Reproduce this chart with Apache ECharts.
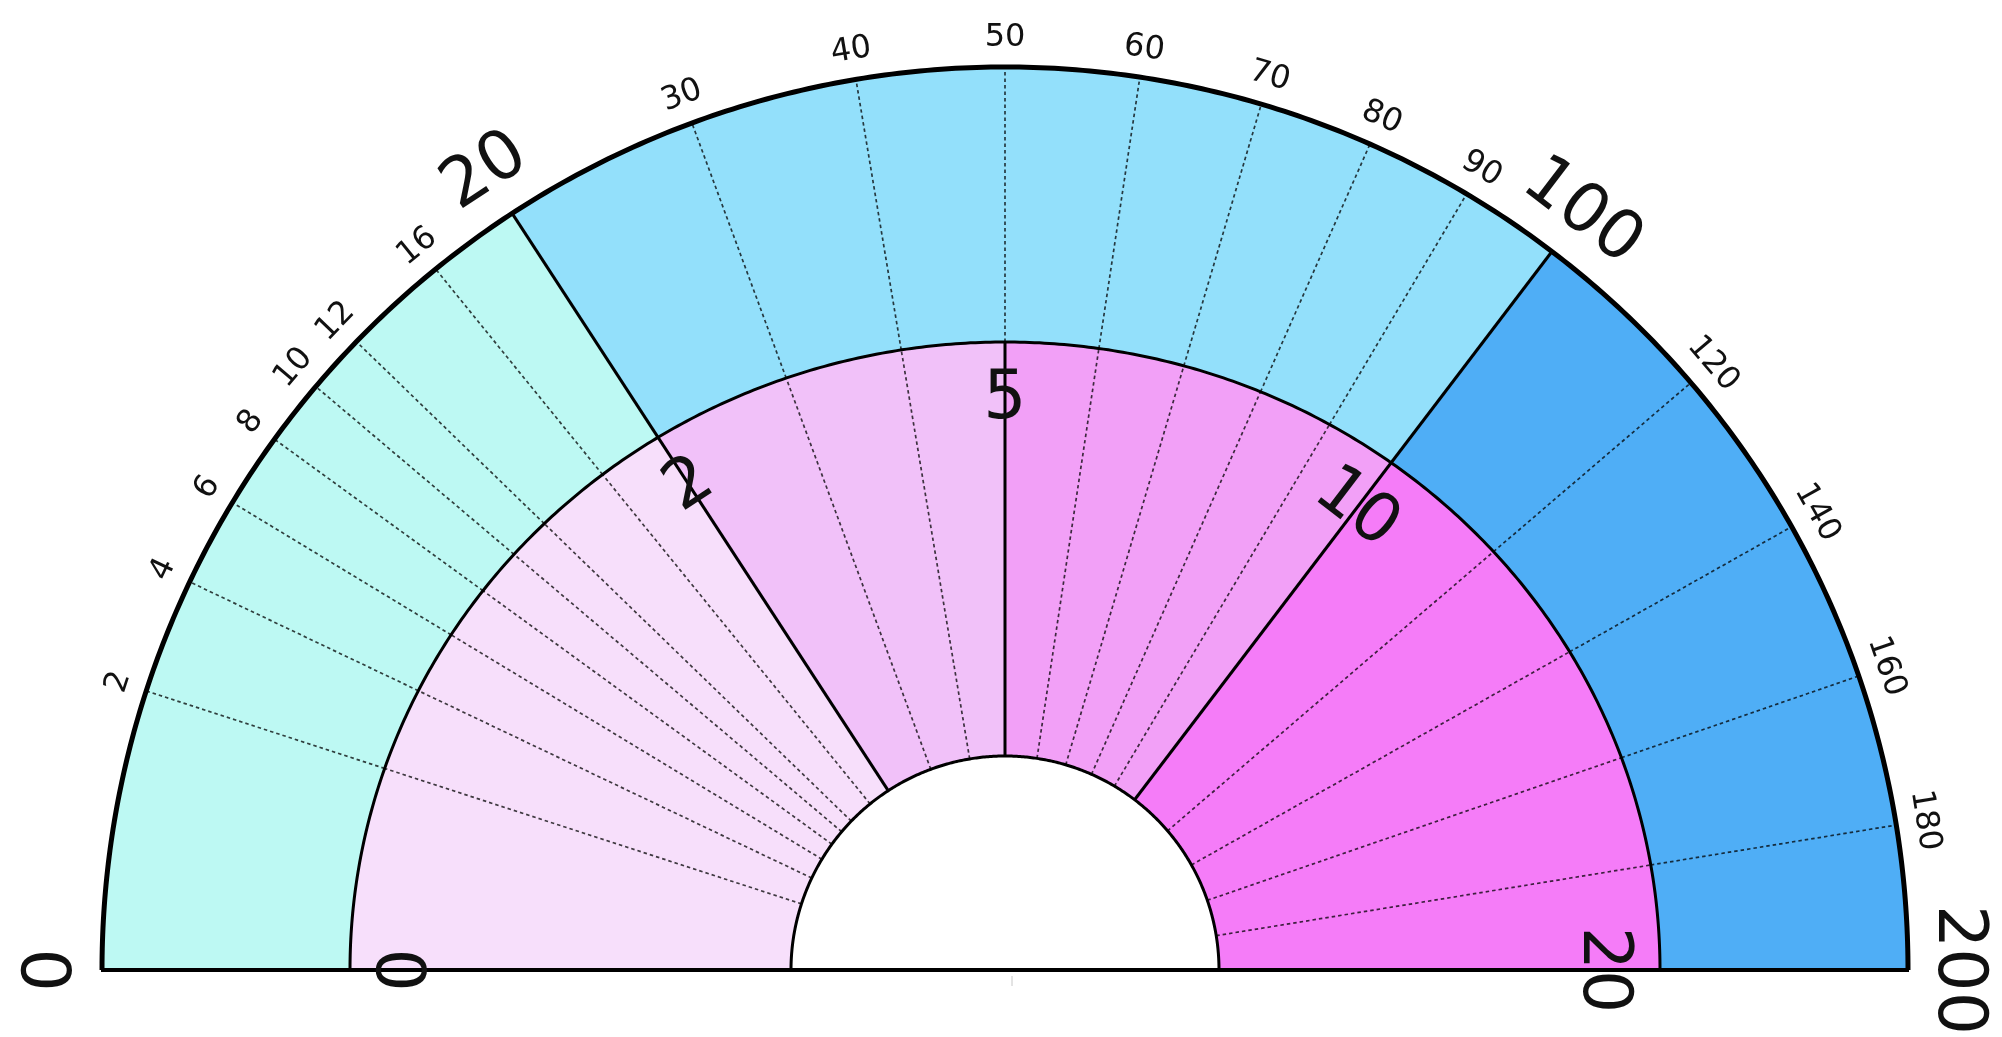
<!DOCTYPE html>
<html><head><meta charset="utf-8">
<script src="https://cdn.jsdelivr.net/npm/echarts@6/dist/echarts.min.js"></script>
<style>html,body{margin:0;padding:0;background:#fff}#c{width:2002px;height:1037px}</style>
</head><body><div id="c"></div>
<script>
// ---------------- data ----------------
const outerScaleMax = 200;
const innerScaleMax = 20;
const outerBandEdges = [0, 20, 100, 200];
const innerBandEdges = [0, 2, 5, 10, 20];
const outerMinorTicks = [2, 4, 6, 8, 10, 12, 16, 30, 40, 50, 60, 70, 80, 90, 120, 140, 160, 180];
const outerMinorLabels = ['2', '4', '6', '8', '10', '12', '16', '30', '40', '50', '60', '70', '80', '90', '120', '140', '160', '180'];
const outerMajorTicks = [0, 20, 100, 200];
const outerMajorLabels = ['0', '20', '100', '200'];
const innerTicks = [0, 2, 5, 10, 20];
const innerLabels = ['0', '2', '5', '10', '20'];

// ---------------- styles / layout ----------------
const outerBandColors = ['#bdf9f3', '#93e0fb', '#4faef6'];
const innerBandColors = ['#f7dffb', '#f1c1f9', '#f2a0f7', '#f57cf8'];
const CX = 1005, CY = 970;
const R_HOLE = 214, R_OUT = 903;
const MID_A = 655, MID_B = 628;          // boundary between the two rings (slightly oval)
const R_SMALL_LABEL = 932, R_BIG_LABEL = 952, INNER_LABEL_INSET = 58;
const FONT = 'DejaVu Sans';

// square-root scale: value -> position along the half circle (0..1)
const sq = (v, max) => Math.sqrt(v / max);
const rHole = () => R_HOLE;
const rOut = () => R_OUT;
const rMid = a => {
  const t = Math.PI * a;
  return MID_A * MID_B / Math.sqrt(Math.pow(MID_B * Math.cos(t), 2) + Math.pow(MID_A * Math.sin(t), 2));
};

const bands = [];
outerBandEdges.slice(0, -1).forEach((v, i) => bands.push({
  rin: rMid, rout: rOut, a0: sq(v, outerScaleMax), a1: sq(outerBandEdges[i + 1], outerScaleMax), color: outerBandColors[i]
}));
innerBandEdges.slice(0, -1).forEach((v, i) => bands.push({
  rin: rHole, rout: rMid, a0: sq(v, innerScaleMax), a1: sq(innerBandEdges[i + 1], innerScaleMax), color: innerBandColors[i]
}));

const lines = [];
outerMinorTicks.forEach(v => {
  const a = sq(v, outerScaleMax);
  lines.push({ a, rin: rMid, rout: rOut, dashed: true });
  const iv = v * innerScaleMax / outerScaleMax;
  if (!innerBandEdges.includes(iv)) lines.push({ a, rin: rHole, rout: rMid, dashed: true });
});
outerBandEdges.slice(1, -1).forEach(v => lines.push({ a: sq(v, outerScaleMax), rin: rMid, rout: rOut, dashed: false }));
innerBandEdges.slice(1, -1).forEach(v => lines.push({ a: sq(v, innerScaleMax), rin: rHole, rout: rMid, dashed: false }));

const labels = [];
outerMinorTicks.forEach((v, i) => labels.push({ a: sq(v, outerScaleMax), r: () => R_SMALL_LABEL, text: outerMinorLabels[i], size: 32 }));
outerMajorTicks.forEach((v, i) => labels.push({ a: sq(v, outerScaleMax), r: () => R_BIG_LABEL, text: outerMajorLabels[i], size: 68 }));
innerTicks.forEach((v, i) => labels.push({ a: sq(v, innerScaleMax), r: a => rMid(a) - INNER_LABEL_INSET, text: innerLabels[i], size: 68 }));

const arcs = [rHole, rMid, rOut];
const arcWidths = [3, 3, 5];

function arcPoints(api, rFn, a0, a1, n) {
  const pts = [];
  for (let k = 0; k <= n; k++) {
    const a = a0 + (a1 - a0) * k / n;
    pts.push(api.coord([rFn(a), a]));
  }
  return pts;
}

const chart = echarts.init(document.getElementById('c'), null, { renderer: 'canvas' });
chart.setOption({
  backgroundColor: '#ffffff',
  animation: false,
  polar: { center: [CX, CY], radius: [0, 1000] },
  angleAxis: { type: 'value', min: 0, max: 2, startAngle: 180, clockwise: true, show: false },
  radiusAxis: { type: 'value', min: 0, max: 1000, show: false },
  series: [
    {
      type: 'custom', coordinateSystem: 'polar', silent: true, z: 1,
      data: bands.map((b, i) => [i]),
      renderItem(params, api) {
        const b = bands[params.dataIndex];
        const n = Math.max(8, Math.round((b.a1 - b.a0) * 400));
        const outer = arcPoints(api, b.rout, b.a0, b.a1, n);
        const inner = arcPoints(api, b.rin, b.a0, b.a1, n).reverse();
        return { type: 'polygon', shape: { points: outer.concat(inner) },
                 style: { fill: b.color, stroke: b.color, lineWidth: 0.6 } };
      }
    },
    {
      type: 'custom', coordinateSystem: 'polar', silent: true, z: 2,
      data: lines.map((l, i) => [i]),
      renderItem(params, api) {
        const l = lines[params.dataIndex];
        const p0 = api.coord([l.rin(l.a), l.a]), p1 = api.coord([l.rout(l.a), l.a]);
        return { type: 'line', shape: { x1: p0[0], y1: p0[1], x2: p1[0], y2: p1[1] },
                 style: l.dashed ? { stroke: 'rgba(0,0,0,0.75)', lineWidth: 1.7, lineDash: [3.5, 3] }
                                 : { stroke: '#000', lineWidth: 3 } };
      }
    },
    {
      type: 'custom', coordinateSystem: 'polar', silent: true, z: 3,
      data: arcs.map((r, i) => [i]),
      renderItem(params, api) {
        const pts = arcPoints(api, arcs[params.dataIndex], 0, 1, 400);
        return { type: 'polyline', shape: { points: pts },
                 style: { stroke: '#000', lineWidth: arcWidths[params.dataIndex], fill: null, lineJoin: 'round' } };
      }
    },
    {
      type: 'custom', coordinateSystem: 'polar', silent: true, z: 4,
      data: [[0]],
      renderItem(params, api) {
        const p0 = api.coord([R_OUT, 0]), p1 = api.coord([R_OUT, 1]);
        const c = api.coord([0, 0]);
        return { type: 'group', children: [
          { type: 'line', shape: { x1: p0[0] - 1, y1: p0[1], x2: p1[0] + 1, y2: p1[1] }, style: { stroke: '#000', lineWidth: 4 } },
          { type: 'line', shape: { x1: c[0] + 7, y1: c[1] + 6, x2: c[0] + 7, y2: c[1] + 16 }, style: { stroke: '#c8c8c8', lineWidth: 1 } }
        ] };
      }
    },
    {
      type: 'custom', coordinateSystem: 'polar', silent: true, z: 5,
      data: labels.map((l, i) => [i]),
      renderItem(params, api) {
        const l = labels[params.dataIndex];
        const cs = params.coordSys;
        const p = api.coord([l.r(l.a), l.a]);
        const phi = Math.atan2(p[1] - cs.cy, p[0] - cs.cx);
        return { type: 'text', x: p[0], y: p[1], rotation: -(phi + Math.PI / 2),
                 style: { text: l.text, x: 0, y: 0, fill: '#111', fontSize: l.size, fontFamily: FONT,
                          align: 'center', verticalAlign: 'middle' } };
      }
    }
  ]
});
</script>
</body></html>
